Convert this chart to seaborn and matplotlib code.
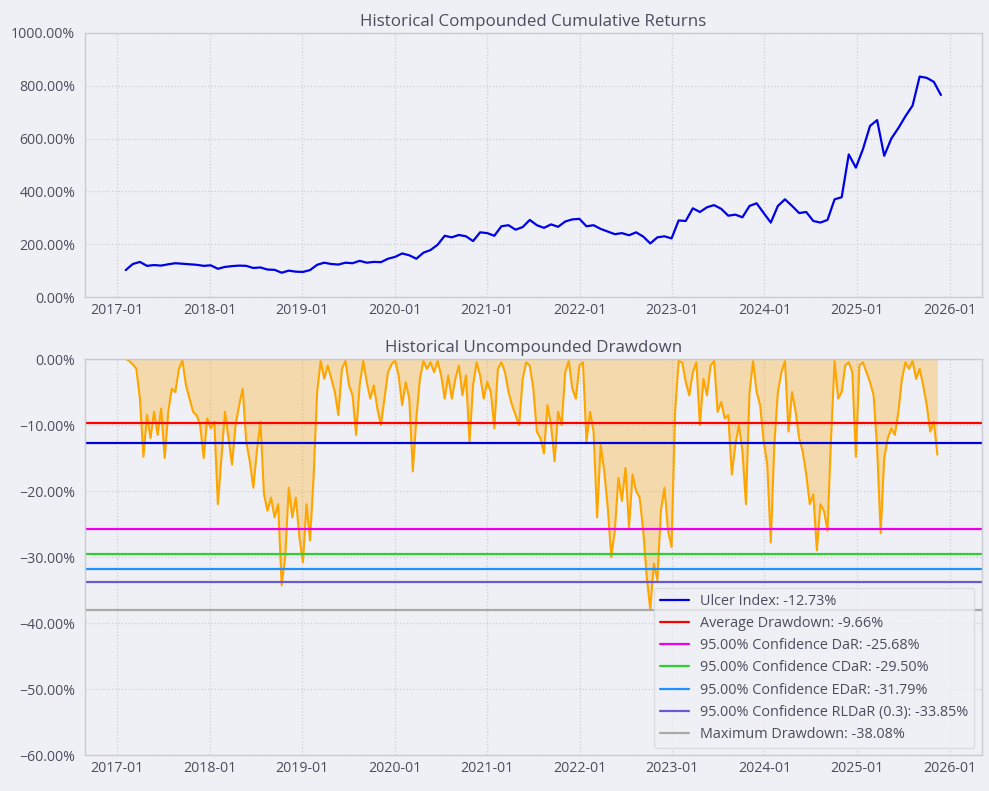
import matplotlib
matplotlib.use("Agg")
import matplotlib.pyplot as plt
import matplotlib.dates as mdates
import matplotlib.ticker as mtick
import numpy as np
import pandas as pd
import seaborn as sns

# compounded cumulative returns (%), read every 4 weeks from 2017-02-03
cum_pct = [102, 125, 133, 118, 121, 119, 124, 128, 126, 124,
           122, 118, 120, 107, 114, 117, 119, 118, 110, 112,
           104, 103, 92, 100, 96, 95, 102, 122, 130, 125,
           123, 130, 128, 137, 130, 133, 132, 145, 152, 165,
           158, 145, 168, 178, 198, 232, 226, 235, 230, 212,
           245, 242, 232, 268, 272, 255, 265, 292, 272, 262,
           275, 266, 286, 294, 296, 268, 272, 258, 248, 238,
           242, 234, 245, 229, 203, 226, 230, 222, 290, 288,
           336, 322, 340, 348, 334, 308, 312, 302, 345, 355,
           318, 282, 345, 370, 345, 318, 322, 288, 282, 292,
           370, 378, 540, 490, 560, 648, 670, 535, 600, 640,
           685, 725, 835, 830, 815, 765]

# uncompounded drawdown (%), read every 2 weeks from 2017-02-03
dd_pct = [0.0, -0.3, -0.8, -1.5, -6.0, -14.8, -8.5, -12.0, -8.0, -11.5,
          -7.5, -15.0, -8.0, -4.5, -5.0, -1.5, -0.2, -4.0, -6.0, -8.0,
          -8.5, -10.0, -15.0, -9.0, -10.5, -9.5, -22.0, -15.0, -8.0, -12.0,
          -16.0, -10.0, -7.0, -4.5, -12.5, -15.5, -19.5, -14.0, -9.5, -20.5,
          -23.0, -21.0, -24.0, -22.0, -34.3, -30.0, -19.5, -24.0, -21.0, -27.0,
          -30.8, -22.0, -27.5, -18.0, -5.0, -0.3, -3.0, -1.0, -3.0, -5.0,
          -8.5, -1.5, -0.3, -4.0, -5.5, -11.5, -4.0, -0.3, -3.5, -6.0,
          -4.0, -7.5, -10.0, -6.0, -2.0, -0.8, -0.2, -2.5, -7.0, -3.5,
          -6.0, -17.0, -9.0, -3.0, -0.3, -1.5, -0.5, -2.0, -0.3, -2.5,
          -6.0, -2.5, -6.0, -3.0, -1.0, -5.5, -2.5, -12.5, -4.0, -0.5,
          -2.5, -6.0, -3.5, -5.0, -10.5, -1.5, -0.5, -2.0, -5.0, -7.0,
          -8.5, -10.0, -3.0, -0.5, -1.0, -4.5, -11.0, -12.0, -14.3, -7.0,
          -10.0, -15.5, -8.0, -10.0, -2.0, -0.3, -4.5, -6.0, -1.0, -0.5,
          -12.5, -8.0, -11.0, -24.0, -13.0, -17.0, -22.5, -30.0, -26.0, -18.0,
          -21.5, -16.5, -25.5, -17.5, -20.0, -21.0, -26.0, -33.0, -38.0, -31.0,
          -33.5, -23.0, -19.5, -26.0, -28.5, -8.0, -0.3, -0.5, -3.5, -5.5,
          -2.0, -0.5, -10.0, -3.0, -5.5, -1.0, -0.3, -8.0, -6.5, -9.0,
          -8.5, -17.5, -13.0, -10.0, -14.0, -22.0, -5.0, -0.3, -5.0, -7.0,
          -12.5, -16.0, -27.8, -13.0, -5.0, -2.0, -0.3, -11.0, -5.0, -8.0,
          -12.0, -14.0, -17.5, -22.0, -20.5, -29.0, -22.0, -23.0, -26.0, -12.0,
          -0.3, -6.0, -5.0, -1.0, -0.5, -2.0, -14.8, -1.0, -0.5, -2.0,
          -3.5, -5.5, -13.5, -26.4, -15.0, -12.0, -10.5, -11.5, -8.0, -3.0,
          -0.5, -1.5, -0.3, -3.0, -1.5, -4.0, -7.0, -11.0, -9.5, -14.5]

risk_labels = ["Ulcer Index", "Average Drawdown", "95.00% Confidence DaR",
               "95.00% Confidence CDaR", "95.00% Confidence EDaR",
               "95.00% Confidence RLDaR (0.3)", "Maximum Drawdown"]
risk_values = [-12.73, -9.66, -25.68, -29.50, -31.79, -33.85, -38.08]
risk_colors = ["#0000dd", "#ff0000", "#ee00ee", "#32cd32", "#1e90ff",
               "#6a5acd", "#a9a9a9"]

dates_cum = pd.date_range("2017-02-03", periods=len(cum_pct), freq="28D")
dates_dd = pd.date_range("2017-02-03", periods=len(dd_pct), freq="14D")

bg = "#eef0f5"
txt = "#4a4d5c"
sns.set_theme(style="whitegrid", rc={
    "axes.facecolor": bg, "figure.facecolor": bg,
    "axes.edgecolor": "#c9ccd4", "grid.color": "#cdd0d8",
    "grid.linestyle": ":", "grid.linewidth": 0.9,
    "text.color": txt, "axes.labelcolor": txt,
    "xtick.color": txt, "ytick.color": txt,
    "xtick.major.size": 0, "ytick.major.size": 0,
})
plt.rcParams['font.family'] = ['Open Sans', 'DejaVu Sans']

fig = plt.figure(figsize=(9.89, 7.91), dpi=100)
ax1 = fig.add_axes([0.0859, 0.6245, 0.9067, 0.3338])
ax2 = fig.add_axes([0.0859, 0.0455, 0.9067, 0.5006], sharex=ax1)

# top: cumulative returns
sns.lineplot(x=dates_cum, y=cum_pct, ax=ax1, color="#0000e6", linewidth=1.6)
ax1.set_ylim(0, 1000)
ax1.set_yticks(np.arange(0, 1001, 200))
ax1.yaxis.set_major_formatter(mtick.PercentFormatter(xmax=100, decimals=2))
ax1.set_title("Historical Compounded Cumulative Returns", fontsize=12.2, color=txt, pad=5)

# bottom: drawdown
sns.lineplot(x=dates_dd, y=dd_pct, ax=ax2, color="#ffa500", linewidth=1.5)
ax2.fill_between(dates_dd, 0, dd_pct, color="#ffa500", alpha=0.3, linewidth=0)
for lab, val, col in zip(risk_labels, risk_values, risk_colors):
    ax2.axhline(val, color=col, linewidth=1.6, label=f"{lab}: {val:.2f}%")
ax2.set_ylim(-60, 0)
ax2.set_yticks(np.arange(-60, 1, 10))
ax2.yaxis.set_major_formatter(mtick.PercentFormatter(xmax=100, decimals=2))
ax2.set_title("Historical Uncompounded Drawdown", fontsize=12.2, color=txt, pad=5)

leg = ax2.legend(loc="lower right", fontsize=10.4, frameon=True, facecolor=bg,
                 edgecolor="#d5d8de", framealpha=0.8, handlelength=2.0)
for t in leg.get_texts():
    t.set_color(txt)

for ax in (ax1, ax2):
    ax.xaxis.set_major_locator(mdates.YearLocator())
    ax.xaxis.set_major_formatter(mdates.DateFormatter("%Y-%m"))
    ax.tick_params(axis="x", labelsize=10.2, pad=4)
    ax.tick_params(axis="y", labelsize=10.2, pad=7)
    ax.set_xlabel("")
    ax.set_ylabel("")
    for s in ax.spines.values():
        s.set_color("#c9ccd4")
        s.set_linewidth(1.0)

plt.savefig("out.png", dpi=100, facecolor=bg)
